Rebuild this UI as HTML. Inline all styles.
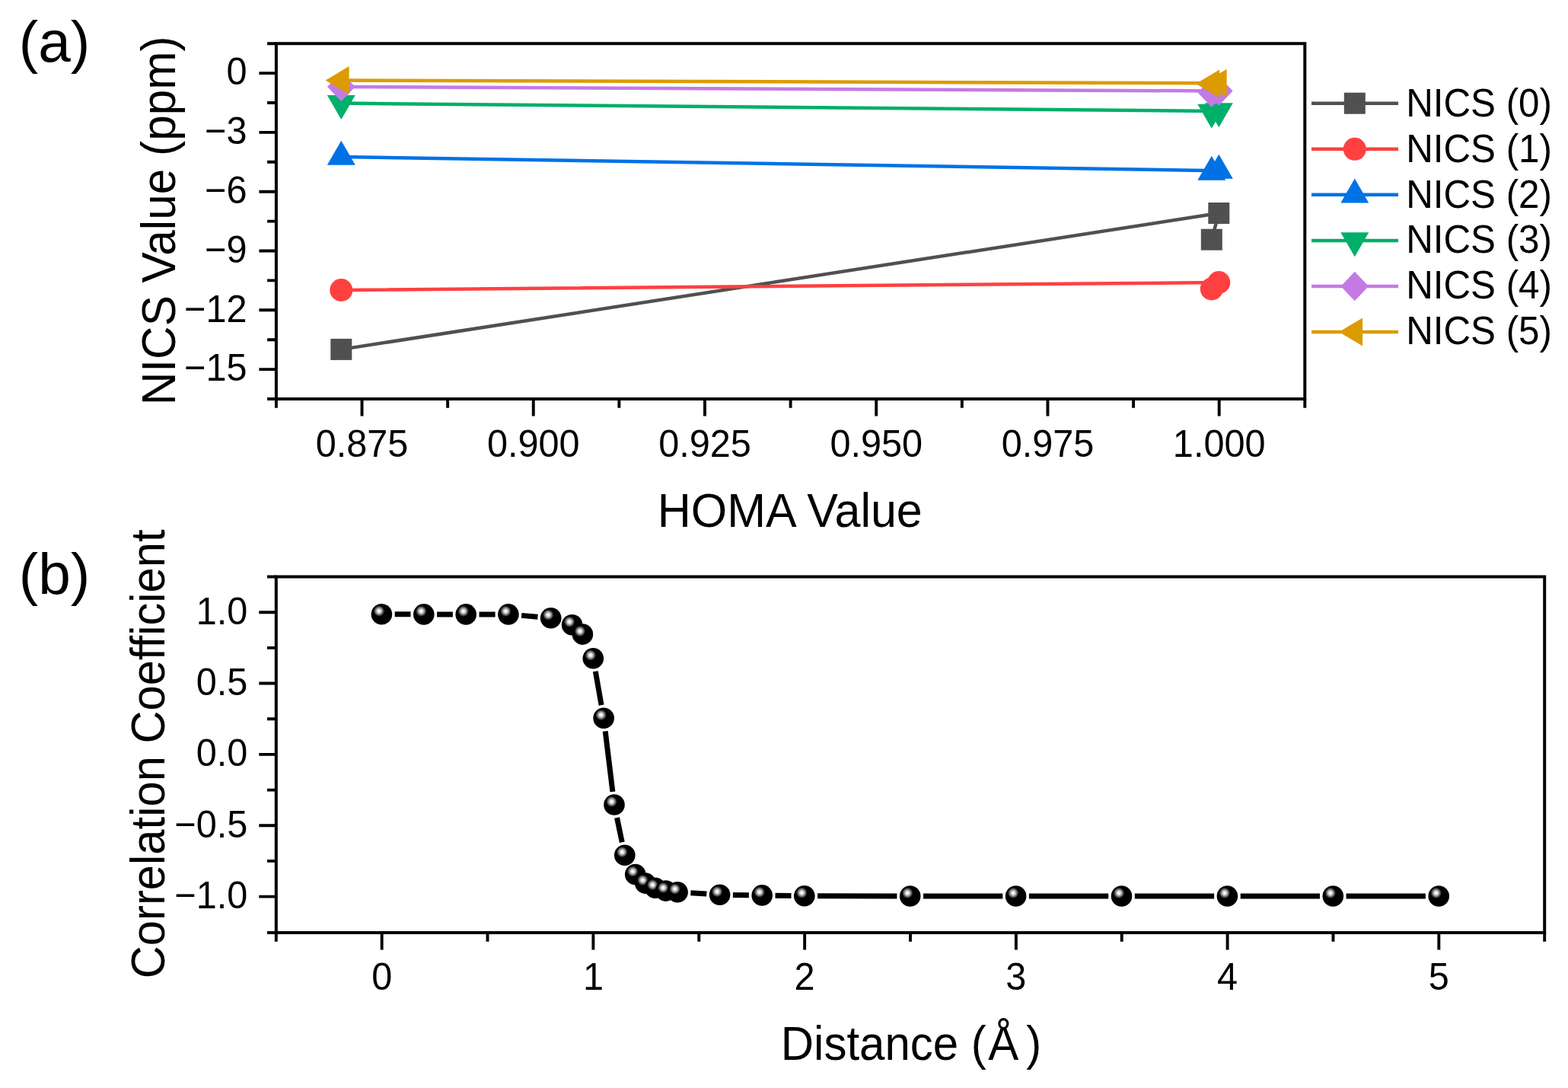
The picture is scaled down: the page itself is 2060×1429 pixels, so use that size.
<!DOCTYPE html><html><head><meta charset="utf-8"><title>Figure</title><style>html,body{margin:0;padding:0;background:#fff;overflow:hidden;}svg{display:block;}</style></head><body><svg width="2060" height="1429" viewBox="0 0 2060 1429">
<defs><radialGradient id="ball" cx="0.375" cy="0.35" r="0.26" fx="0.375" fy="0.35" gradientUnits="objectBoundingBox"><stop offset="0" stop-color="#ffffff"/><stop offset="0.25" stop-color="#eeeeee"/><stop offset="0.6" stop-color="#8a8a8a"/><stop offset="1" stop-color="#000000"/></radialGradient></defs>
<rect width="2060" height="1429" fill="#ffffff"/>
<g font-family='"Liberation Sans", Arial, sans-serif' fill="#000">
<path d="M340.40 96.10H362.90 M340.40 173.90H362.90 M340.40 251.70H362.90 M340.40 329.50H362.90 M340.40 407.30H362.90 M340.40 485.10H362.90 M351.10 57.20H362.90 M351.10 135.00H362.90 M351.10 212.80H362.90 M351.10 290.60H362.90 M351.10 368.40H362.90 M351.10 446.20H362.90 M351.10 524.00H362.90 M475.52 524.00V546.50 M700.75 524.00V546.50 M925.98 524.00V546.50 M1151.22 524.00V546.50 M1376.45 524.00V546.50 M1601.68 524.00V546.50 M362.90 524.00V535.80 M588.13 524.00V535.80 M813.37 524.00V535.80 M1038.60 524.00V535.80 M1263.83 524.00V535.80 M1489.07 524.00V535.80 M1714.30 524.00V535.80" stroke="#000" stroke-width="3.9" fill="none"/>
<rect x="362.90" y="57.20" width="1351.40" height="466.80" stroke="#000" stroke-width="4.0" fill="none"/>
<path d="M340.30 804.20H362.80 M340.30 897.55H362.80 M340.30 990.90H362.80 M340.30 1084.25H362.80 M340.30 1177.60H362.80 M351.00 757.50H362.80 M351.00 850.88H362.80 M351.00 944.23H362.80 M351.00 1037.58H362.80 M351.00 1130.92H362.80 M351.00 1225.00H362.80 M501.67 1225.00V1247.50 M779.40 1225.00V1247.50 M1057.13 1225.00V1247.50 M1334.87 1225.00V1247.50 M1612.60 1225.00V1247.50 M1890.33 1225.00V1247.50 M362.80 1225.00V1236.80 M640.53 1225.00V1236.80 M918.27 1225.00V1236.80 M1196.00 1225.00V1236.80 M1473.73 1225.00V1236.80 M1751.47 1225.00V1236.80 M2029.20 1225.00V1236.80" stroke="#000" stroke-width="3.9" fill="none"/>
<rect x="362.80" y="757.50" width="1666.40" height="467.50" stroke="#000" stroke-width="4.0" fill="none"/>
<text x="324.50" y="0" font-size="48.6" text-anchor="end" transform="translate(0,111.40) scale(1,1.04)" >0</text>
<text x="324.50" y="0" font-size="48.6" text-anchor="end" transform="translate(0,189.20) scale(1,1.04)" >&#8722;3</text>
<text x="324.50" y="0" font-size="48.6" text-anchor="end" transform="translate(0,267.00) scale(1,1.04)" >&#8722;6</text>
<text x="324.50" y="0" font-size="48.6" text-anchor="end" transform="translate(0,344.80) scale(1,1.04)" >&#8722;9</text>
<text x="324.50" y="0" font-size="48.6" text-anchor="end" transform="translate(0,422.60) scale(1,1.04)" >&#8722;12</text>
<text x="324.50" y="0" font-size="48.6" text-anchor="end" transform="translate(0,500.40) scale(1,1.04)" >&#8722;15</text>
<text x="475.52" y="0" font-size="48.6" text-anchor="middle" transform="translate(0,600.20) scale(1,1.04)" >0.875</text>
<text x="700.75" y="0" font-size="48.6" text-anchor="middle" transform="translate(0,600.20) scale(1,1.04)" >0.900</text>
<text x="925.98" y="0" font-size="48.6" text-anchor="middle" transform="translate(0,600.20) scale(1,1.04)" >0.925</text>
<text x="1151.22" y="0" font-size="48.6" text-anchor="middle" transform="translate(0,600.20) scale(1,1.04)" >0.950</text>
<text x="1376.45" y="0" font-size="48.6" text-anchor="middle" transform="translate(0,600.20) scale(1,1.04)" >0.975</text>
<text x="1601.68" y="0" font-size="48.6" text-anchor="middle" transform="translate(0,600.20) scale(1,1.04)" >1.000</text>
<text x="325.20" y="0" font-size="48.6" text-anchor="end" transform="translate(0,819.50) scale(1,1.04)" >1.0</text>
<text x="325.20" y="0" font-size="48.6" text-anchor="end" transform="translate(0,912.85) scale(1,1.04)" >0.5</text>
<text x="325.20" y="0" font-size="48.6" text-anchor="end" transform="translate(0,1006.20) scale(1,1.04)" >0.0</text>
<text x="325.20" y="0" font-size="48.6" text-anchor="end" transform="translate(0,1099.55) scale(1,1.04)" >&#8722;0.5</text>
<text x="325.20" y="0" font-size="48.6" text-anchor="end" transform="translate(0,1192.90) scale(1,1.04)" >&#8722;1.0</text>
<text x="501.67" y="0" font-size="48.6" text-anchor="middle" transform="translate(0,1300.20) scale(1,1.04)" >0</text>
<text x="779.40" y="0" font-size="48.6" text-anchor="middle" transform="translate(0,1300.20) scale(1,1.04)" >1</text>
<text x="1057.13" y="0" font-size="48.6" text-anchor="middle" transform="translate(0,1300.20) scale(1,1.04)" >2</text>
<text x="1334.87" y="0" font-size="48.6" text-anchor="middle" transform="translate(0,1300.20) scale(1,1.04)" >3</text>
<text x="1612.60" y="0" font-size="48.6" text-anchor="middle" transform="translate(0,1300.20) scale(1,1.04)" >4</text>
<text x="1890.33" y="0" font-size="48.6" text-anchor="middle" transform="translate(0,1300.20) scale(1,1.04)" >5</text>
<text x="1037.80" y="0" font-size="61.0" text-anchor="middle" transform="translate(0,692.40) scale(1,1.04)" >HOMA Value</text>
<text x="0" y="0" font-size="60.3" text-anchor="middle" transform="translate(229.5,289.85) rotate(-90) scale(1,1.04)">NICS Value (ppm)</text>
<text x="0" y="0" font-size="59.75" text-anchor="middle" transform="translate(215.5,990.35) rotate(-90) scale(1,1.04)">Correlation Coefficient</text>
<text x="0" y="0" font-size="60" transform="translate(0,1391.8) scale(1,1.04)"><tspan x="1025.8">Distance (</tspan><tspan x="1298.2">&#197;</tspan><tspan x="1348.2">)</tspan></text>
<text x="24.65" y="0" font-size="76.6" transform="translate(0,81.1) scale(1,0.98)">(a)</text>
<text x="24.65" y="0" font-size="76.6" transform="translate(0,780.2) scale(1,0.98)">(b)</text>
</g>
<path d="M448.30 458.90 L1601.30 280.00 L1591.80 314.70" stroke="#505050" stroke-width="4.5" fill="none" stroke-linejoin="round"/>
<rect x="434.30" y="444.90" width="28.00" height="28.00" fill="#505050"/>
<rect x="1587.30" y="266.00" width="28.00" height="28.00" fill="#505050"/>
<rect x="1577.80" y="300.70" width="28.00" height="28.00" fill="#505050"/>
<path d="M448.30 381.00 L1601.30 371.00 L1591.80 379.50" stroke="#ff4040" stroke-width="4.5" fill="none" stroke-linejoin="round"/>
<circle cx="448.30" cy="381.00" r="15.00" fill="#ff4040"/>
<circle cx="1601.30" cy="371.00" r="15.00" fill="#ff4040"/>
<circle cx="1591.80" cy="379.50" r="15.00" fill="#ff4040"/>
<path d="M448.30 206.00 L1601.30 224.20 L1591.80 226.10" stroke="#0072e6" stroke-width="4.5" fill="none" stroke-linejoin="round"/>
<polygon points="448.30,184.67 466.80,216.67 429.80,216.67" fill="#0072e6"/>
<polygon points="1601.30,202.87 1619.80,234.87 1582.80,234.87" fill="#0072e6"/>
<polygon points="1591.80,204.77 1610.30,236.77 1573.30,236.77" fill="#0072e6"/>
<path d="M448.30 135.60 L1601.30 146.00 L1591.80 147.50" stroke="#00af6a" stroke-width="4.5" fill="none" stroke-linejoin="round"/>
<polygon points="448.30,156.93 466.80,124.93 429.80,124.93" fill="#00af6a"/>
<polygon points="1601.30,167.33 1619.80,135.33 1582.80,135.33" fill="#00af6a"/>
<polygon points="1591.80,168.83 1610.30,136.83 1573.30,136.83" fill="#00af6a"/>
<path d="M448.30 113.90 L1601.30 119.50 L1591.80 121.60" stroke="#c47ae5" stroke-width="4.5" fill="none" stroke-linejoin="round"/>
<polygon points="448.30,94.70 466.60,113.90 448.30,133.10 430.00,113.90" fill="#c47ae5"/>
<polygon points="1601.30,100.30 1619.60,119.50 1601.30,138.70 1583.00,119.50" fill="#c47ae5"/>
<polygon points="1591.80,102.40 1610.10,121.60 1591.80,140.80 1573.50,121.60" fill="#c47ae5"/>
<path d="M448.30 105.50 L1601.30 109.20 L1591.80 110.00" stroke="#dc9b00" stroke-width="4.5" fill="none" stroke-linejoin="round"/>
<polygon points="427.63,105.50 458.63,87.00 458.63,124.00" fill="#dc9b00"/>
<polygon points="1580.63,109.20 1611.63,90.70 1611.63,127.70" fill="#dc9b00"/>
<polygon points="1571.13,110.00 1602.13,91.50 1602.13,128.50" fill="#dc9b00"/>
<path d="M1723 135.70H1837" stroke="#505050" stroke-width="4.5"/>
<rect x="1765.80" y="121.70" width="28.00" height="28.00" fill="#505050"/>
<path d="M1723 195.77H1837" stroke="#ff4040" stroke-width="4.5"/>
<circle cx="1779.80" cy="195.77" r="15.00" fill="#ff4040"/>
<path d="M1723 255.84H1837" stroke="#0072e6" stroke-width="4.5"/>
<polygon points="1779.80,234.51 1798.30,266.51 1761.30,266.51" fill="#0072e6"/>
<path d="M1723 315.91H1837" stroke="#00af6a" stroke-width="4.5"/>
<polygon points="1779.80,337.24 1798.30,305.24 1761.30,305.24" fill="#00af6a"/>
<path d="M1723 375.98H1837" stroke="#c47ae5" stroke-width="4.5"/>
<polygon points="1779.80,356.78 1798.10,375.98 1779.80,395.18 1761.50,375.98" fill="#c47ae5"/>
<path d="M1723 436.05H1837" stroke="#dc9b00" stroke-width="4.5"/>
<polygon points="1759.13,436.05 1790.13,417.55 1790.13,454.55" fill="#dc9b00"/>
<g font-family='"Liberation Sans", Arial, sans-serif' fill="#000">
<text x="1847.20" y="0" font-size="49.3" text-anchor="start" transform="translate(0,152.80) scale(1,1.04)" >NICS (0)</text>
<text x="1847.20" y="0" font-size="49.3" text-anchor="start" transform="translate(0,212.68) scale(1,1.04)" >NICS (1)</text>
<text x="1847.20" y="0" font-size="49.3" text-anchor="start" transform="translate(0,272.56) scale(1,1.04)" >NICS (2)</text>
<text x="1847.20" y="0" font-size="49.3" text-anchor="start" transform="translate(0,332.44) scale(1,1.04)" >NICS (3)</text>
<text x="1847.20" y="0" font-size="49.3" text-anchor="start" transform="translate(0,392.32) scale(1,1.04)" >NICS (4)</text>
<text x="1847.20" y="0" font-size="49.3" text-anchor="start" transform="translate(0,452.20) scale(1,1.04)" >NICS (5)</text>
</g>
<path d="M518.70 806.76L539.50 806.84 M574.10 806.90L594.90 806.90 M629.50 806.90L650.60 806.90 M685.14 808.38L706.46 810.22 M782.30 881.74L790.10 926.16 M795.20 960.37L804.90 1039.83 M810.53 1073.94L817.27 1106.26 M907.37 1172.79L928.33 1174.11 M962.90 1175.42L983.90 1175.68 M1018.50 1176.15L1039.50 1176.45 M1074.10 1176.74L1178.40 1176.96 M1213.00 1177.00L1317.30 1177.00 M1351.90 1177.00L1456.20 1177.00 M1490.80 1177.00L1595.10 1177.00 M1629.70 1177.00L1734.00 1177.00 M1768.60 1177.00L1872.90 1177.00" stroke="#000" stroke-width="7" fill="none"/>
<circle cx="501.40" cy="806.70" r="13.8" fill="url(#ball)"/>
<circle cx="556.80" cy="806.90" r="13.8" fill="url(#ball)"/>
<circle cx="612.20" cy="806.90" r="13.8" fill="url(#ball)"/>
<circle cx="667.90" cy="806.90" r="13.8" fill="url(#ball)"/>
<circle cx="723.70" cy="811.70" r="13.8" fill="url(#ball)"/>
<circle cx="751.60" cy="820.80" r="13.8" fill="url(#ball)"/>
<circle cx="765.40" cy="833.10" r="13.8" fill="url(#ball)"/>
<circle cx="779.30" cy="864.70" r="13.8" fill="url(#ball)"/>
<circle cx="793.10" cy="943.20" r="13.8" fill="url(#ball)"/>
<circle cx="807.00" cy="1057.00" r="13.8" fill="url(#ball)"/>
<circle cx="820.80" cy="1123.20" r="13.8" fill="url(#ball)"/>
<circle cx="834.70" cy="1148.60" r="13.8" fill="url(#ball)"/>
<circle cx="847.80" cy="1160.10" r="13.8" fill="url(#ball)"/>
<circle cx="860.80" cy="1166.30" r="13.8" fill="url(#ball)"/>
<circle cx="874.70" cy="1170.10" r="13.8" fill="url(#ball)"/>
<circle cx="890.10" cy="1171.70" r="13.8" fill="url(#ball)"/>
<circle cx="945.60" cy="1175.20" r="13.8" fill="url(#ball)"/>
<circle cx="1001.20" cy="1175.90" r="13.8" fill="url(#ball)"/>
<circle cx="1056.80" cy="1176.70" r="13.8" fill="url(#ball)"/>
<circle cx="1195.70" cy="1177.00" r="13.8" fill="url(#ball)"/>
<circle cx="1334.60" cy="1177.00" r="13.8" fill="url(#ball)"/>
<circle cx="1473.50" cy="1177.00" r="13.8" fill="url(#ball)"/>
<circle cx="1612.40" cy="1177.00" r="13.8" fill="url(#ball)"/>
<circle cx="1751.30" cy="1177.00" r="13.8" fill="url(#ball)"/>
<circle cx="1890.20" cy="1177.00" r="13.8" fill="url(#ball)"/>
</svg></body></html>
